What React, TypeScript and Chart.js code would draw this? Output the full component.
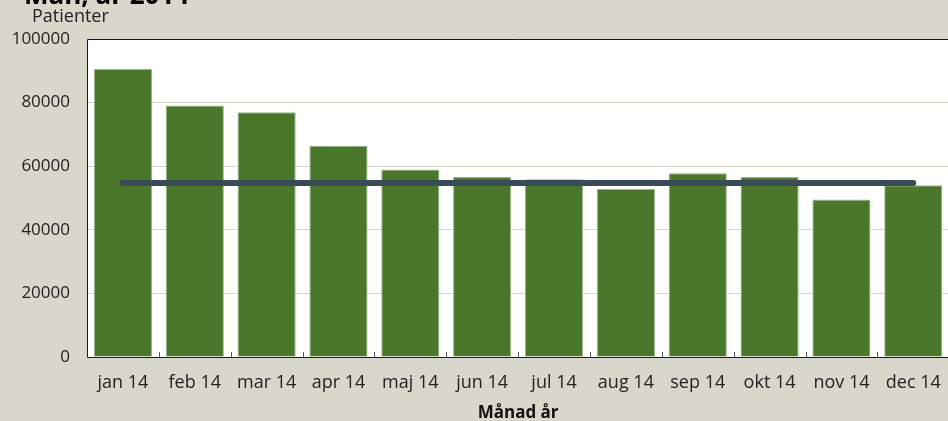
import React, { useEffect, useRef } from "react";
import { Chart, registerables } from "chart.js";

Chart.register(...registerables);

const TITLE = "Mån, år 2014";
const Y_TITLE = "Patienter";
const X_TITLE = "Månad år";
const categories = ["jan 14", "feb 14", "mar 14", "apr 14", "maj 14", "jun 14", "jul 14", "aug 14", "sep 14", "okt 14", "nov 14", "dec 14"];
const patients = [90600, 79100, 77000, 66400, 59000, 56600, 55900, 52800, 57800, 56600, 49500, 54000];
const reference = [54700, 54700, 54700, 54700, 54700, 54700, 54700, 54700, 54700, 54700, 54700, 54700];

const BG = "#D9D7CB";
const FONT = "'Open Sans', sans-serif";

const decorPlugin = {
  id: "decor",
  beforeDraw(chart: any) {
    const { ctx, chartArea } = chart;
    ctx.save();
    ctx.fillStyle = BG;
    ctx.fillRect(0, 0, chart.width, chart.height);
    ctx.fillStyle = "#ffffff";
    ctx.fillRect(chartArea.left, chartArea.top, chartArea.right - chartArea.left, chartArea.bottom - chartArea.top);
    ctx.restore();
  },
  afterDatasetsDraw(chart: any) {
    const { ctx, chartArea } = chart;
    const xs = chart.scales.x;
    ctx.save();
    ctx.strokeStyle = "#1a1a1a";
    ctx.lineWidth = 1;
    ctx.beginPath();
    ctx.moveTo(chartArea.right, chartArea.top + 0.5);
    ctx.lineTo(chartArea.left + 0.5, chartArea.top + 0.5);
    ctx.lineTo(chartArea.left + 0.5, chartArea.bottom + 0.5);
    ctx.lineTo(chartArea.right, chartArea.bottom + 0.5);
    ctx.stroke();
    ctx.strokeStyle = "#555";
    ctx.beginPath();
    const n = categories.length;
    for (let i = 0; i < n; i++) {
      const c = xs.getPixelForValue(i);
      const half = (xs.getPixelForValue(1) - xs.getPixelForValue(0)) / 2;
      const x = Math.round(c + half) + 0.5;
      ctx.moveTo(x, chartArea.bottom);
      ctx.lineTo(x, chartArea.bottom - 5);
    }
    ctx.stroke();
    ctx.fillStyle = "#000";
    ctx.font = "bold 26px " + FONT;
    ctx.textBaseline = "alphabetic";
    ctx.textAlign = "left";
    ctx.fillText(TITLE, 24, 4);
    ctx.fillStyle = "#222";
    ctx.font = "18px " + FONT;
    ctx.textBaseline = "middle";
    ctx.fillText(Y_TITLE, 32, 17);
    ctx.restore();
  },
};

export default function App() {
  const ref = useRef<HTMLCanvasElement | null>(null);
  useEffect(() => {
    if (!ref.current) return;
    const chart = new Chart(ref.current, {
      type: "bar",
      data: {
        labels: categories,
        datasets: [
          {
            type: "line",
            label: "Referens",
            data: reference,
            borderColor: "#3A4B58",
            borderWidth: 6,
            borderCapStyle: "round",
            pointRadius: 0,
            fill: false,
            order: 0,
          } as any,
          {
            type: "bar",
            label: "Patienter",
            data: patients,
            backgroundColor: "#4A7729",
            borderColor: "#9DB58C",
            borderWidth: 1,
            barPercentage: 0.81,
            categoryPercentage: 1,
            order: 1,
          },
        ],
      },
      options: {
        responsive: false,
        animation: false,
        layout: { padding: { left: 0, top: 39, right: 5, bottom: 0 } },
        plugins: { legend: { display: false }, tooltip: { enabled: false } },
        scales: {
          x: {
            grid: { display: false, drawTicks: false },
            border: { display: false },
            ticks: { color: "#222", font: { family: FONT, size: 18 }, padding: 15, maxRotation: 0, autoSkip: false },
            title: { display: true, text: X_TITLE, color: "#111", font: { family: FONT, size: 17, weight: "bold" }, padding: { top: 0, bottom: -2 } },
            afterFit: (s: any) => { s.height = 64; },
          },
          y: {
            min: 0,
            max: 100000,
            ticks: { stepSize: 20000, color: "#222", font: { family: FONT, size: 17 }, padding: 17, callback: (v: any) => String(v) },
            grid: { color: "#DAD7C8", drawTicks: false },
            border: { display: false },
            afterFit: (s: any) => { s.width = 87; },
          },
        },
      },
      plugins: [decorPlugin],
    });
    return () => chart.destroy();
  }, []);
  return (
    <div style={{ position: "fixed", left: 0, top: 0, width: 948, height: 421, overflow: "hidden", background: BG }}>
      <canvas ref={ref} width={956} height={421} style={{ display: "block" }} />
    </div>
  );
}
